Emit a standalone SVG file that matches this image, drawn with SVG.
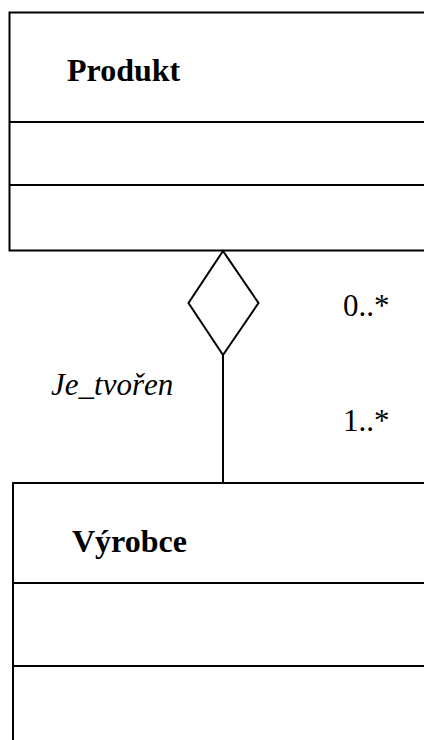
<svg xmlns="http://www.w3.org/2000/svg" width="424" height="740" viewBox="0 0 424 740">
<style>
.box{fill:#fff;stroke:#000;stroke-width:2}
.ln{stroke:#000;stroke-width:2;fill:none}
.title{font-family:"Liberation Serif","Times New Roman",serif;font-weight:bold;font-size:32px;fill:#000}
.lbl{font-family:"Liberation Serif","Times New Roman",serif;font-size:31px;fill:#000}
</style>
<rect width="424" height="740" fill="#fff"/>
<g id="produkt">
<rect class="box" x="9.5" y="12.5" width="430" height="238"/>
<line class="ln" x1="9.5" y1="122" x2="440" y2="122"/>
<line class="ln" x1="9.5" y1="185" x2="440" y2="185"/>
<text class="title" x="67" y="81">Produkt</text>
</g>
<g id="vyrobce">
<rect class="box" x="13" y="483" width="430" height="280"/>
<line class="ln" x1="13" y1="583" x2="440" y2="583"/>
<line class="ln" x1="13" y1="666" x2="440" y2="666"/>
<text class="title" x="72" y="552">Výrobce</text>
</g>
<g id="connectors">
<polygon class="ln" points="223,251 258.5,303 223,355 188.5,303" fill="#fff"/>
<line class="ln" x1="223" y1="355" x2="223" y2="483"/>
<text class="lbl" x="51" y="395" font-style="italic" font-size="32">Je_tvořen</text>
<text class="lbl" x="343" y="316">0..*</text>
<text class="lbl" x="343" y="431">1..*</text>
</g>
</svg>
